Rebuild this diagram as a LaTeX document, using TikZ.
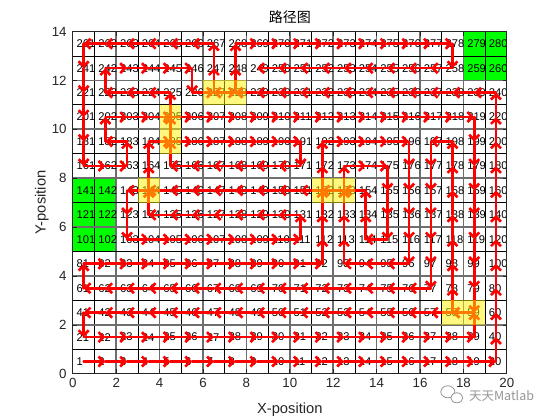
\documentclass[tikz,border=0pt]{standalone}
\usepackage{fontspec}
\setmainfont{Liberation Sans}
\newfontfamily\cjkfont{Noto Sans CJK SC}
\usetikzlibrary{arrows.meta}
\definecolor{axcol}{RGB}{38,38,38}
\definecolor{gridgray}{RGB}{110,110,110}
\definecolor{obst}{RGB}{0,255,0}
\definecolor{wmgray}{RGB}{150,150,150}
\tikzset{
  numlbl/.style={anchor=west,inner sep=0pt,font=\fontsize{11.2}{12}\selectfont,text=black},
  seg/.style={draw=red,line width=2.6pt,line cap=round,-{Straight Barb[length=5pt,width=10pt]}},
  thingrid/.style={draw=black,line width=0.8pt},
  thickgrid/.style={draw=gridgray,line width=1.6pt},
  ticklbl/.style={inner sep=0pt,font=\fontsize{13.3}{14}\selectfont,text=axcol},
  axlbl/.style={inner sep=0pt,font=\fontsize{14.7}{16}\selectfont,text=axcol},
  revisit/.style={fill=yellow,fill opacity=0.5},
  obstacle/.style={fill=obst},
  axbox/.style={draw=axcol,line width=0.7pt},
  wmark/.style={inner sep=0pt,font=\cjkfont\fontsize{12.5}{13}\selectfont,text=wmgray},
}
\begin{document}
\begin{tikzpicture}[x=21.7pt,y=24.45pt]
\fill[white] (-72.8pt,-46.2pt) rectangle (487.2pt,373.8pt);
\useasboundingbox (-72.8pt,-46.2pt) rectangle (487.2pt,373.8pt);
% obstacles
\fill[obstacle] (0,5) rectangle (2,8);
\fill[obstacle] (18,12) rectangle (20,14);
% grid
\foreach \i in {1,3,...,19} {\draw[thingrid] (\i,0) -- (\i,14);}
\foreach \i in {2,4,...,18} {\draw[thickgrid] (\i,0) -- (\i,14);}
\foreach \j in {1,3,...,13} {\draw[thingrid] (0,\j) -- (20,\j);}
\foreach \j in {2,4,...,12} {\draw[thickgrid] (0,\j) -- (20,\j);}
% cell numbers and centres
\foreach \n in {1,...,280} {
  \pgfmathtruncatemacro\cc{mod(\n-1,20)}
  \pgfmathtruncatemacro\rr{div(\n-1,20)}
  \coordinate (c\n) at (\cc+0.5,\rr+0.5);
  \node[numlbl] (t\n) at (\cc+0.17,\rr+0.5) {\n};
}
% path
\foreach \s/\e in {1/20,20/240,240/227,227/267,267/261,261/161,161/163,163/183,183/182,182/202,202/219,219/59,59/41,41/21,21/39,39/59,59/58,58/198,198/197,197/77,77/61,61/81,81/92,92/192,192/196,196/96,96/93,93/173,173/175,175/115,115/114,114/154,154/143,143/103,103/111,111/131,131/124,124/184,184/191,191/171,171/165,165/225,225/222,222/242,242/246,246/226,226/228,228/268,268/278,278/258,258/249} {
  \pgfmathtruncatemacro\rs{div(\s-1,20)}
  \pgfmathtruncatemacro\re{div(\e-1,20)}
  \pgfmathtruncatemacro\dir{\e>\s ? 1 : -1}
  \pgfmathtruncatemacro\st{\rs==\re ? \dir : 20*\dir}
  \pgfmathtruncatemacro\cnt{abs(\e-\s)/abs(\st)}
  \foreach \k in {1,...,\cnt} {
    \pgfmathtruncatemacro\pa{\s+(\k-1)*\st}
    \pgfmathtruncatemacro\pb{\s+\k*\st}
    \draw[seg] (c\pa) -- (c\pb);
  }
}
% revisited cells
\foreach \n in {58,59,144,152,153,185,205,227,228} {
  \pgfmathtruncatemacro\cc{mod(\n-1,20)}
  \pgfmathtruncatemacro\rr{div(\n-1,20)}
  \fill[revisit] (\cc,\rr) rectangle (\cc+1,\rr+1);
}
% axes
\draw[axbox] (0,0) rectangle (20,14);
\foreach \x in {0,2,...,20} {
  \draw[axbox] (\x,0) -- ++(0,4.3pt);
  \draw[axbox] (\x,14) -- ++(0,-4.3pt);
  \node[ticklbl,anchor=north] (xl\x) at ([yshift=-4pt]\x,0) {\x};
}
\foreach \y in {0,2,...,14} {
  \draw[axbox] (0,\y) -- ++(4.3pt,0);
  \draw[axbox] (20,\y) -- ++(-4.3pt,0);
  \node[ticklbl,anchor=east] (yl\y) at ([xshift=-6pt]0,\y) {\y};
}
\node[axlbl] (xlab) at ([yshift=-36pt]10,0) {X-position};
\node[axlbl,rotate=90] (ylab) at ([xshift=-31pt]0,7) {Y-position};
\node[inner sep=0pt,font=\cjkfont\fontsize{14}{15}\selectfont,text=black] (title) at ([yshift=14.5pt]10,14) {路径图};
% watermark
\draw[wmgray,line width=0.8pt] (375pt,-18pt) ellipse [x radius=7pt,y radius=6pt];
\draw[wmgray,line width=0.8pt,fill=white] (384pt,-24pt) ellipse [x radius=6pt,y radius=5pt];
\node[wmark,anchor=west] (wm) at (396pt,-22pt) {天天Matlab};
\end{tikzpicture}
\end{document}
